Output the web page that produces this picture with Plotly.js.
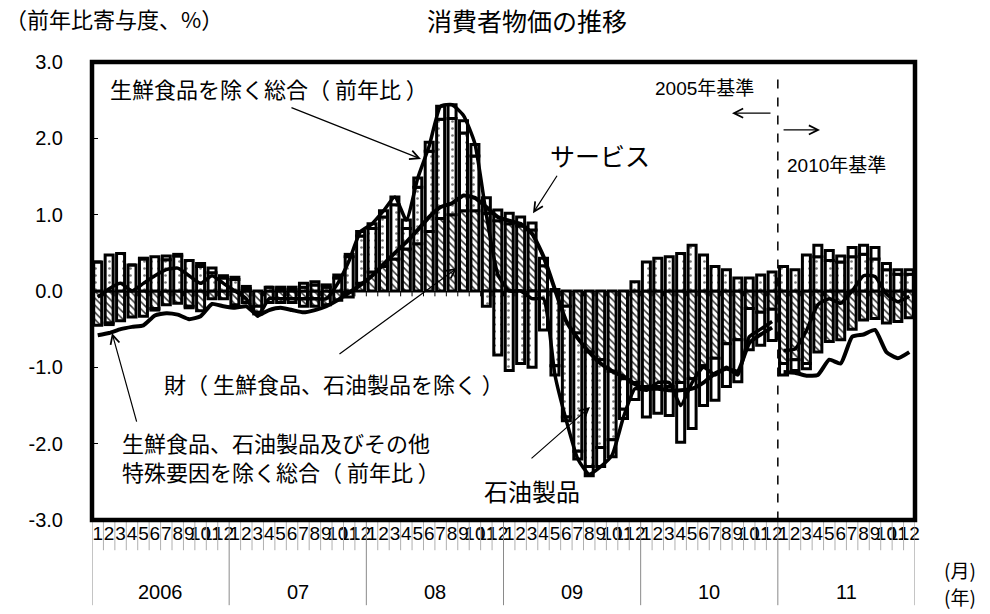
<!DOCTYPE html>
<html><head><meta charset="utf-8">
<script src="https://cdn.plot.ly/plotly-3.0.1.min.js"></script>
<style>html,body{margin:0;padding:0;background:#fff}</style>
</head><body><div id="chart" style="width:990px;height:614px"></div>
<script>
// ---- data ----
const years = ['2006','07','08','09','10','11'];
const monthLabels = ['1','2','3','4','5','6','7','8','9','10','11','12'];
const yTickVals = [-3,-2,-1,0,1,2,3];
const yTickText = ['-3.0','-2.0','-1.0','0.0','1.0','2.0','3.0'];
// 財（生鮮食品、石油製品を除く）寄与度
const goods = [
 -0.45,-0.42,-0.39,-0.34,-0.33,-0.23,-0.18,-0.16,-0.20,-0.26,-0.10,-0.10,
 -0.18,-0.15,-0.20,-0.15,-0.15,-0.15,-0.20,-0.20,-0.18,-0.12,-0.08, 0.10,
  0.25, 0.32, 0.42, 0.55, 0.62, 0.78, 0.95, 1.00, 1.05, 1.05, 1.02, 0.92,
  0.88, 0.85, 0.80, 0.33, 0.02,-0.20,-0.55,-0.80,-0.90,-1.05,-1.15,-1.20,
 -1.25,-1.25,-1.25,-1.20,-1.15,-0.98,-0.88,-0.69,-0.64,-0.23,-0.28,-0.24,
 -0.95,-0.90,-0.95,-0.80,-0.66,-0.64,-0.50,-0.38,-0.36,-0.42,-0.40,-0.35];
// 石油製品 寄与度
const petroleum = [
  0.38, 0.47, 0.49, 0.34, 0.42, 0.45, 0.41, 0.46, 0.40, 0.32, 0.24, 0.17,
  0.15, 0.03,-0.08, 0.05, 0.03, 0.02, 0.05, 0.08, 0.05, 0.17, 0.45, 0.62,
  0.57, 0.65, 0.71, 0.27, 0.74, 1.05, 1.30, 1.26, 1.02, 0.72,-0.20,-0.84,
 -1.04,-0.95,-1.00,-0.51,-0.98,-1.45,-1.55,-1.50,-1.15,-0.90,-0.40, 0.12,
  0.38, 0.43, 0.45, 0.49, 0.60, 0.47, 0.32, 0.28, 0.17, 0.17, 0.21, 0.25,
  0.32, 0.28, 0.47, 0.45, 0.40, 0.38, 0.45, 0.48, 0.42, 0.28, 0.22, 0.22];
// サービス 寄与度
const services = [
  0.00,-0.02, 0.00, 0.00, 0.01,-0.02, 0.05, 0.02,-0.02, 0.04, 0.06, 0.03,
  0.03, 0.03,-0.02, 0.00, 0.02, 0.03, 0.05, 0.04, 0.03, 0.04, 0.03, 0.06,
  0.06, 0.08, 0.10, 0.11, 0.12, 0.12, 0.17, 0.18, 0.16, 0.15, 0.20, 0.14,
  0.14, 0.12, 0.09, 0.10,-0.12,-0.05,-0.10,-0.12,-0.25,-0.22,-0.12,-0.22,
 -0.40,-0.35,-0.38,-0.78,-0.65,-0.52,-0.55,-0.56,-0.55,-0.54,-0.43,-0.41,
 -0.15,-0.14,-0.07, 0.15, 0.13, 0.08, 0.12, 0.12, 0.15, 0.08, 0.06, 0.06];
// 生鮮食品を除く総合（前年比）
const coreCPI = [
 -0.08, 0.03, 0.10, 0.00, 0.10, 0.20, 0.28, 0.30, 0.20, 0.10, 0.20, 0.10,
  0.00,-0.10,-0.33,-0.10,-0.10,-0.10,-0.10,-0.10,-0.10, 0.10, 0.40, 0.78,
  0.88, 1.05, 1.23, 0.93, 1.48, 1.90, 2.42, 2.44, 2.30, 1.93, 1.00, 0.22,
  0.00, 0.00,-0.10,-0.10,-1.10,-1.70,-2.20,-2.40,-2.30,-2.15,-1.65,-1.28,
 -1.30,-1.20,-1.20,-1.50,-1.20,-1.00,-1.10,-1.00,-1.10,-0.60,-0.50,-0.40,
 -0.78,-0.76,-0.52,-0.18,-0.10,-0.16, 0.00, 0.20, 0.19,-0.04,-0.14,-0.07];
// 生鮮食品、石油製品及びその他特殊要因を除く総合（前年比）
const coreCore = [
 -0.58,-0.55,-0.50,-0.47,-0.45,-0.32,-0.29,-0.31,-0.37,-0.33,-0.17,-0.20,
 -0.22,-0.20,-0.32,-0.25,-0.22,-0.25,-0.28,-0.25,-0.20,-0.12,-0.02, 0.08,
  0.20, 0.35, 0.50, 0.64, 0.80, 0.97, 1.10, 1.15, 1.25, 1.22, 1.10, 0.97,
  0.92, 0.88, 0.75, 0.45, 0.02,-0.40,-0.62,-0.80,-0.95,-1.05,-1.12,-1.22,
 -1.28,-1.28,-1.30,-1.30,-1.28,-1.20,-1.08,-1.02,-1.05,-0.68,-0.57,-0.48,
 -1.06,-1.07,-1.11,-1.10,-0.90,-0.95,-0.60,-0.57,-0.51,-0.80,-0.88,-0.80];
const baseBreak = 60; // 2010年基準の開始（2011年1月）

// ---- build ----
const n = coreCPI.length;
const xi = Array.from({length:n}, (_,i)=>i);
const tickText = xi.map(i => monthLabels[i % 12]);
const FONT = 'Liberation Sans, Arial, Noto Sans CJK JP, sans-serif';
const JFONT = 'Noto Sans CJK JP, Liberation Sans, sans-serif';

const barLine = {color:'#000', width:3};
const traces = [
 {type:'bar', x:xi, y:goods, name:'財', marker:{color:'white', line:barLine,
   pattern:{shape:'\\', fgcolor:'#333', bgcolor:'white', size:5, solidity:0.3}}},
 {type:'bar', x:xi, y:petroleum, name:'石油製品', marker:{color:'white', line:barLine,
   pattern:{shape:'.', fgcolor:'#777', bgcolor:'white', size:7, solidity:0.12}}},
 {type:'bar', x:xi, y:services, name:'サービス', marker:{color:'white', line:barLine}},
];
function lineTrace(arr, a, b, w){
  return {type:'scatter', mode:'lines', x:xi.slice(a,b), y:arr.slice(a,b),
    line:{color:'#000', width:w, shape:'spline', smoothing:0.5}, hoverinfo:'skip'};
}
traces.push(lineTrace(coreCPI, 0, baseBreak, 3.5));
traces.push(lineTrace(coreCPI, baseBreak, n, 3.5));
traces.push(lineTrace(coreCore, 0, baseBreak, 4));
traces.push(lineTrace(coreCore, baseBreak, n, 4));

const shapes = [];
for (let b = 0; b <= n; b++) {
  const isYear = b % 12 === 0;
  shapes.push({type:'line', xref:'x', yref:'paper', x0:b-0.5, x1:b-0.5, y0:-0.004, y1:isYear?-0.186:-0.066,
    line:{color:isYear?'#8a8a8a':'#b0b0b0', width:1}});
  if (b>0 && b<n) shapes.push({type:'line', xref:'x', yref:'y', x0:b-0.5, x1:b-0.5, y0:0, y1:-0.07,
    line:{color:'#000', width:1}});
}
shapes.push({type:'line', xref:'x', yref:'y', x0:baseBreak-0.5, x1:baseBreak-0.5, y0:2.77, y1:-3,
  line:{color:'#000', width:1.5, dash:'dash'}});
shapes.push({type:'rect', xref:'paper', yref:'paper', x0:0, x1:1, y0:0, y1:1, line:{color:'#000', width:4.5}});

const ann = [];
function txt(text, x, y, size, anchor, refs, fam){
  ann.push(Object.assign({text, x, y, showarrow:false, xanchor:anchor||'left', yanchor:'middle',
    font:{family:fam||JFONT, size:size, color:'#000'}}, refs||{xref:'x', yref:'y'}));
}
function arrow(tx, ty, fx, fy){
  ann.push({text:'', x:tx, y:ty, ax:fx, ay:fy, xref:'x', yref:'y', axref:'x', ayref:'y',
    showarrow:true, arrowhead:5, arrowsize:1.5, arrowwidth:1.2, arrowcolor:'#000'});
}
txt('生鮮食品を除く総合（ 前年比 ）', 0.9, 2.66, 22);
txt('サービス', 39.4, 1.78, 25);
txt('2005年基準', 48.6, 2.65, 19, 'left', null, FONT);
txt('2010年基準', 60.1, 1.65, 19, 'left', null, FONT);
txt('財（ 生鮮食品、石油製品を除く ）', 5.6, -1.21, 22);
txt('生鮮食品、石油製品及びその他', 1.95, -1.98, 22);
txt('特殊要因を除く総合（ 前年比 ）', 1.95, -2.36, 22);
txt('石油製品', 33.6, -2.61, 24);
arrow(28.28, 1.73, 16.82, 2.41);
arrow(38.08, 1.02, 40.27, 1.53);
arrow(55.49, 2.33, 58.99, 2.33);
arrow(63.19, 2.11, 59.87, 2.11);
arrow(31.43, 0.30, 21.02, -0.84);
arrow(1.25, -0.55, 3.44, -1.73);
arrow(43.07, -1.52, 37.82, -2.21);
txt('（前年比寄与度、%）', -0.108, 1.096, 22, 'left', {xref:'paper', yref:'paper'});
txt('消費者物価の推移', 0.5286, 1.092, 25, 'center', {xref:'paper', yref:'paper'});
txt('(月)', 1.0547, -0.109, 19, 'center', {xref:'paper', yref:'paper'});
txt('(年)', 1.0547, -0.168, 19, 'center', {xref:'paper', yref:'paper'});
years.forEach((yr,k)=>{
  ann.push({text:yr, x:12*k+5.5, y:-0.157, xref:'x', yref:'paper', showarrow:false,
    xanchor:'center', yanchor:'middle', font:{family:FONT, size:20, color:'#000'}});
});

const layout = {
  width:990, height:614,
  margin:{l:92, r:75, t:62, b:94},
  paper_bgcolor:'#fff', plot_bgcolor:'#fff',
  barmode:'relative', bargap:0.3,
  showlegend:false,
  font:{family:FONT, color:'#000'},
  xaxis:{range:[-0.5, n-0.5], tickvals:xi, ticktext:tickText, tickangle:0,
    tickfont:{family:FONT, size:19, color:'#000'}, showgrid:false, zeroline:false, showline:false,
    ticks:'', fixedrange:true},
  yaxis:{range:[-3,3], tickvals:yTickVals, ticktext:yTickText, showgrid:false,
    zeroline:true, zerolinecolor:'#000', zerolinewidth:1,
    ticks:'inside', ticklen:6, tickcolor:'#000', ticklabelstandoff:28,
    tickfont:{family:FONT, size:20, color:'#000'}, showline:false},
  shapes:shapes, annotations:ann
};
Plotly.newPlot('chart', traces, layout, {staticPlot:true, displayModeBar:false});
</script></body></html>
